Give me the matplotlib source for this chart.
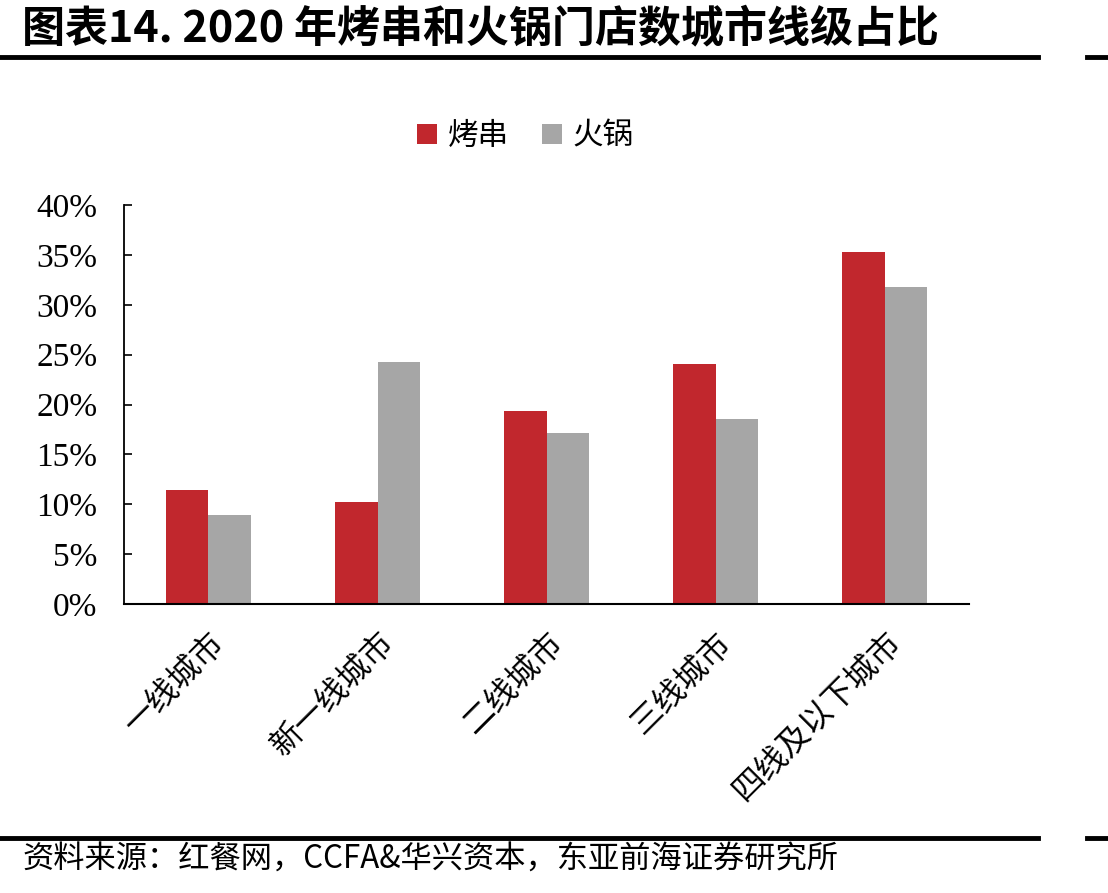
import numpy as np
import matplotlib.pyplot as plt
from matplotlib.lines import Line2D
from matplotlib.ticker import FuncFormatter

cats = ['一线城市', '新一线城市', '二线城市', '三线城市', '四线及以下城市']
bbq = [11.4, 10.2, 19.4, 24.1, 35.3]
hotpot = [8.9, 24.3, 17.1, 18.5, 31.8]
yticks = [0, 5, 10, 15, 20, 25, 30, 35, 40]

red = '#C1272D'
gray = '#A6A6A6'
cjk = ['Noto Sans CJK SC', 'DejaVu Sans']
serif = ['Liberation Serif', 'DejaVu Serif']

fig = plt.figure(figsize=(11.08, 8.93), dpi=100)
ax = fig.add_axes([0.1119, 0.3236, 0.7627, 0.4468])

x = np.arange(len(cats))
w = 0.25
ax.bar(x - w / 2, bbq, w, color=red, label='烤串')
ax.bar(x + w / 2, hotpot, w, color=gray, label='火锅')

ax.set_xlim(-0.5, len(cats) - 0.5)
ax.set_ylim(0, 40)
ax.set_yticks(yticks)
ax.yaxis.set_major_formatter(FuncFormatter(lambda v, p: '%d%%' % v))
for lab in ax.get_yticklabels():
    lab.set_fontfamily(serif)
    lab.set_fontsize(24)
ax.tick_params(axis='y', direction='in', length=6, width=1.2, pad=19)
ax.set_xticks(x)
ax.set_xticklabels(cats, rotation=45, ha='right', rotation_mode='anchor',
                   fontfamily=cjk, fontsize=23)
ax.tick_params(axis='x', length=0, pad=16)
for s in ['top', 'right']:
    ax.spines[s].set_visible(False)
ax.spines['left'].set_linewidth(1.3)
ax.spines['bottom'].set_linewidth(1.5)

leg = ax.legend(loc='upper center', bbox_to_anchor=(0.475, 1.28), ncol=2,
                frameon=False, prop={'family': cjk, 'size': 22},
                handlelength=0.65, handleheight=0.65, handletextpad=0.35,
                columnspacing=1.1)

# title, rules and source
fig.text(0.02, 0.968, '图表14. 2020 年烤串和火锅门店数城市线级占比',
         fontfamily=cjk, fontsize=31, fontweight='bold', va='center', ha='left')
for yy in [1 - 57 / 893, 1 - 838 / 893]:
    fig.add_artist(Line2D([0, 1038 / 1108], [yy, yy], color='black', lw=3.5))
    fig.add_artist(Line2D([1087 / 1108, 1], [yy, yy], color='black', lw=3.5))
fig.text(0.02, 1 - 860 / 893, '资料来源：红餐网，CCFA&华兴资本，东亚前海证券研究所',
         fontfamily=cjk, fontsize=22.5, va='center', ha='left')

fig.savefig('out.png', dpi=100)
